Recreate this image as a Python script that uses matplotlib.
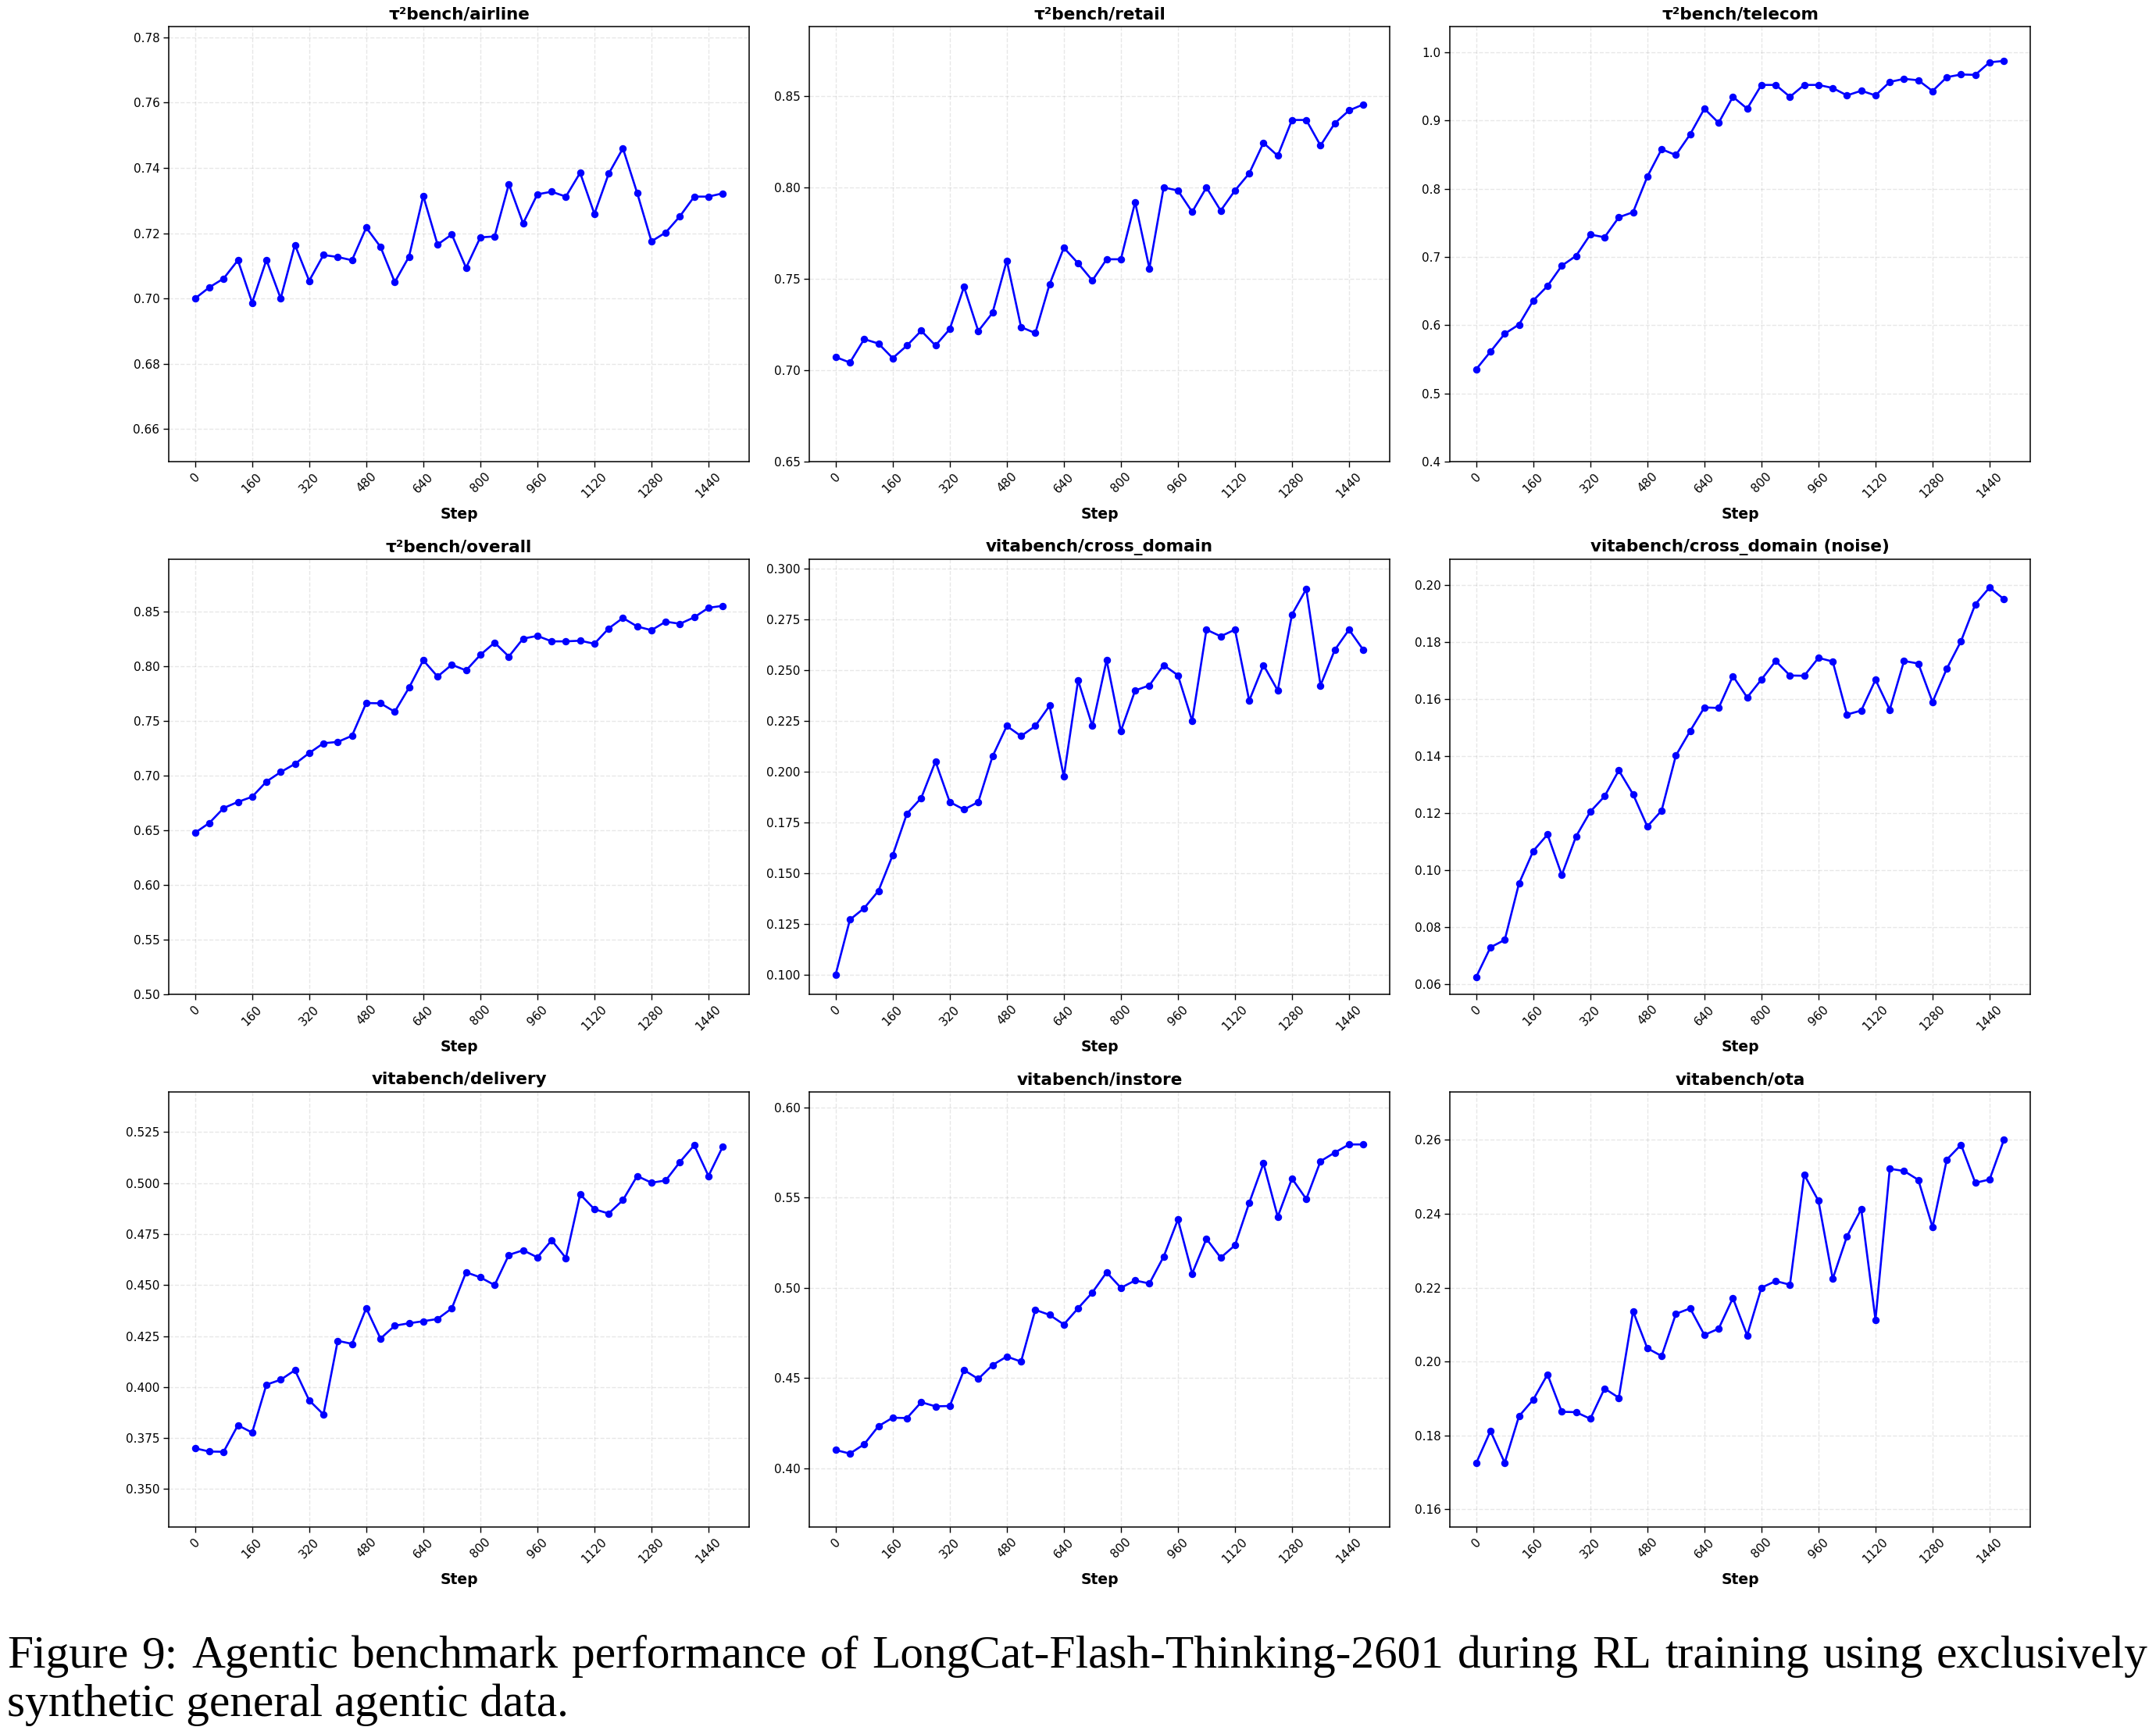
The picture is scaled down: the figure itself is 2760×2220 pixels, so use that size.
import matplotlib
matplotlib.use("Agg")
import matplotlib.pyplot as plt
from matplotlib.ticker import MultipleLocator

steps = [0, 40, 80, 120, 160, 200, 240, 280, 320, 360, 400, 440, 480, 520, 560,
         600, 640, 680, 720, 760, 800, 840, 880, 920, 960, 1000, 1040, 1080, 1120,
         1160, 1200, 1240, 1280, 1320, 1360, 1400, 1440, 1480]
xtick_labels = [0, 160, 320, 480, 640, 800, 960, 1120, 1280, 1440]

titles = ["τ²bench/airline", "τ²bench/retail", "τ²bench/telecom",
          "τ²bench/overall", "vitabench/cross_domain", "vitabench/cross_domain (noise)",
          "vitabench/delivery", "vitabench/instore", "vitabench/ota"]

airline = [0.7000, 0.7034, 0.7061, 0.7117, 0.6987, 0.7118, 0.7000, 0.7164, 0.7054, 0.7133,
           0.7127, 0.7117, 0.7217, 0.7158, 0.7050, 0.7128, 0.7314, 0.7165, 0.7196, 0.7094,
           0.7187, 0.7190, 0.7350, 0.7230, 0.7319, 0.7327, 0.7312, 0.7385, 0.7259, 0.7382,
           0.7460, 0.7323, 0.7175, 0.7202, 0.7252, 0.7312, 0.7312, 0.7322]
retail = [0.7072, 0.7042, 0.7170, 0.7146, 0.7066, 0.7135, 0.7216, 0.7135, 0.7225, 0.7456,
          0.7214, 0.7314, 0.7600, 0.7236, 0.7203, 0.7470, 0.7670, 0.7585, 0.7491, 0.7607,
          0.7607, 0.7919, 0.7557, 0.8000, 0.7983, 0.7866, 0.8000, 0.7873, 0.7983, 0.8077,
          0.8244, 0.8173, 0.8369, 0.8369, 0.8229, 0.8351, 0.8421, 0.8454]
telecom = [0.5355, 0.5613, 0.5876, 0.6010, 0.6362, 0.6576, 0.6873, 0.7017, 0.7330, 0.7290,
           0.7583, 0.7658, 0.8179, 0.8581, 0.8496, 0.8799, 0.9176, 0.8968, 0.9350, 0.9176,
           0.9524, 0.9524, 0.9350, 0.9524, 0.9524, 0.9479, 0.9370, 0.9439, 0.9370, 0.9568,
           0.9613, 0.9593, 0.9434, 0.9638, 0.9677, 0.9672, 0.9856, 0.9876]
overall = [0.6478, 0.6568, 0.6704, 0.6760, 0.6807, 0.6946, 0.7033, 0.7108, 0.7207, 0.7297,
           0.7309, 0.7365, 0.7665, 0.7662, 0.7585, 0.7805, 0.8056, 0.7907, 0.8015, 0.7963,
           0.8105, 0.8217, 0.8090, 0.8254, 0.8279, 0.8229, 0.8229, 0.8235, 0.8207, 0.8347,
           0.8443, 0.8365, 0.8331, 0.8409, 0.8390, 0.8449, 0.8536, 0.8554]
cross_domain = [0.1000, 0.1270, 0.1327, 0.1412, 0.1588, 0.1793, 0.1870, 0.2050, 0.1850, 0.1813,
                0.1850, 0.2075, 0.2225, 0.2175, 0.2225, 0.2325, 0.1975, 0.2450, 0.2225, 0.2550,
                0.2200, 0.2400, 0.2425, 0.2525, 0.2475, 0.2250, 0.2700, 0.2667, 0.2700, 0.2350,
                0.2525, 0.2400, 0.2775, 0.2900, 0.2425, 0.2600, 0.2700, 0.2600]
cross_noise = [0.0624, 0.0728, 0.0754, 0.0952, 0.1066, 0.1124, 0.0982, 0.1117, 0.1204, 0.1258,
               0.1349, 0.1265, 0.1152, 0.1208, 0.1401, 0.1487, 0.1570, 0.1568, 0.1680, 0.1605,
               0.1668, 0.1733, 0.1682, 0.1681, 0.1744, 0.1731, 0.1545, 0.1559, 0.1667, 0.1562,
               0.1733, 0.1724, 0.1589, 0.1706, 0.1803, 0.1932, 0.1991, 0.1950]
delivery = [0.3700, 0.3684, 0.3683, 0.3813, 0.3777, 0.4012, 0.4036, 0.4083, 0.3935, 0.3866,
            0.4227, 0.4212, 0.4387, 0.4238, 0.4301, 0.4313, 0.4323, 0.4334, 0.4386, 0.4563,
            0.4538, 0.4500, 0.4648, 0.4671, 0.4636, 0.4720, 0.4633, 0.4945, 0.4872, 0.4851,
            0.4917, 0.5035, 0.5002, 0.5013, 0.5104, 0.5186, 0.5035, 0.5179]
instore = [0.4101, 0.4081, 0.4133, 0.4233, 0.4280, 0.4278, 0.4366, 0.4343, 0.4345, 0.4544,
           0.4495, 0.4572, 0.4619, 0.4591, 0.4878, 0.4850, 0.4797, 0.4887, 0.4974, 0.5086,
           0.5000, 0.5041, 0.5024, 0.5173, 0.5379, 0.5079, 0.5272, 0.5167, 0.5236, 0.5471,
           0.5690, 0.5394, 0.5606, 0.5492, 0.5702, 0.5750, 0.5795, 0.5795]
ota = [0.1725, 0.1812, 0.1726, 0.1852, 0.1897, 0.1965, 0.1864, 0.1863, 0.1845, 0.1927,
       0.1902, 0.2136, 0.2036, 0.2015, 0.2129, 0.2144, 0.2072, 0.2089, 0.2172, 0.2071,
       0.2200, 0.2218, 0.2208, 0.2506, 0.2435, 0.2224, 0.2339, 0.2413, 0.2113, 0.2522,
       0.2516, 0.2492, 0.2364, 0.2547, 0.2587, 0.2484, 0.2493, 0.2600]

series = [airline, retail, telecom, overall, cross_domain, cross_noise, delivery, instore, ota]
ylims = [(0.650, 0.7833), (0.650, 0.888), (0.40, 1.038),
         (0.50, 0.898), (0.0902, 0.3047), (0.0563, 0.209),
         (0.3314, 0.5447), (0.3674, 0.6086), (0.1552, 0.2730)]
ysteps = [0.02, 0.05, 0.1, 0.05, 0.025, 0.02, 0.025, 0.05, 0.02]

caption_lines = ["Figure 9: Agentic benchmark performance of LongCat-Flash-Thinking-2601 during RL training using exclusively",
                 "synthetic general agentic data."]

W, H = 2760, 2220
DPI = 100
fig = plt.figure(figsize=(W / DPI, H / DPI), dpi=DPI)
fig.patch.set_facecolor("white")

col_left = [216, 1036, 1856]
row_top = [34, 716, 1398]
ax_w, ax_h = 743, 557

for i in range(9):
    r, c = divmod(i, 3)
    left = col_left[c] / W
    bottom = 1 - (row_top[r] + ax_h) / H
    ax = fig.add_axes([left, bottom, ax_w / W, ax_h / H])
    ax.plot(steps, series[i], color="blue", linewidth=1.9, marker="o", markersize=5.8)
    ax.set_title(titles[i], fontsize=15.5, fontweight="bold", pad=7)
    ax.set_xlabel("Step", fontsize=13.5, fontweight="bold", labelpad=6)
    ax.set_xticks(xtick_labels)
    ax.set_xticklabels([str(v) for v in xtick_labels], rotation=45)
    ax.set_ylim(*ylims[i])
    ax.yaxis.set_major_locator(MultipleLocator(ysteps[i]))
    ax.tick_params(axis="both", labelsize=11, length=4.8, width=1.0)
    ax.grid(True, linestyle="--", alpha=0.3, linewidth=1.0)
    for sp in ax.spines.values():
        sp.set_linewidth(1.1)

# Caption: line 2 natural width sets the font size, line 1 is justified
fig.canvas.draw()
renderer = fig.canvas.get_renderer()
serif = ["Liberation Serif", "DejaVu Serif"]
x0 = 9
line1_width = 2741
line2_width = 718
fs = 40
t2 = fig.text(x0 / W, 1 - 2197 / H, caption_lines[1], fontsize=fs,
              family=serif, va="baseline", ha="left")
fs = fs * line2_width / t2.get_window_extent(renderer=renderer).width
t2.set_fontsize(fs)

words = caption_lines[0].split(" ")
word_texts = []
widths = []
for w in words:
    t = fig.text(0, 1 - 2135 / H, w, fontsize=fs, family=serif, va="baseline", ha="left")
    word_texts.append(t)
    widths.append(t.get_window_extent(renderer=renderer).width)
gap = (line1_width - sum(widths)) / (len(words) - 1)
x = x0
for t, wd in zip(word_texts, widths):
    t.set_x(x / W)
    x += wd + gap

fig.savefig("out.png", dpi=DPI, facecolor="white")
